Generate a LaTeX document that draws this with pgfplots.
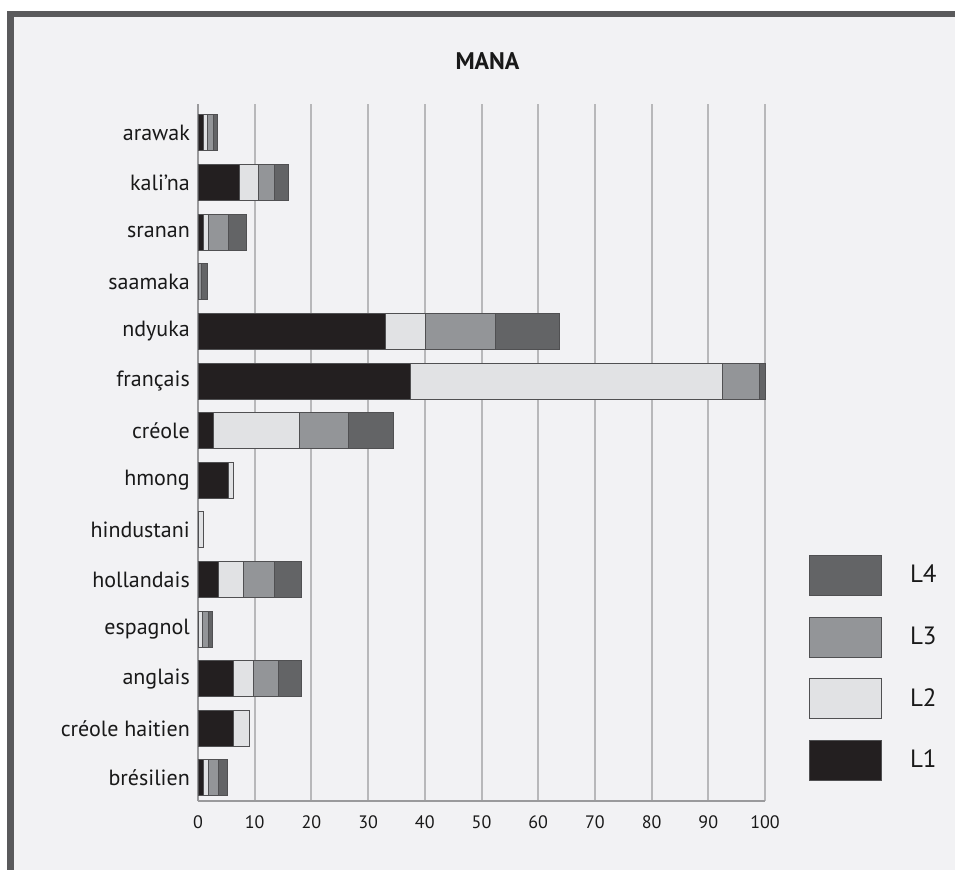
\documentclass[border=0pt]{standalone}
\usepackage{pgfplots}
\pgfplotsset{compat=1.18}
\usepackage{fontspec}
\setmainfont{PT Sans}
\definecolor{bg}{HTML}{F2F2F4}
\definecolor{framec}{HTML}{5A5A5C}
\definecolor{cA}{HTML}{231F20}
\definecolor{cB}{HTML}{E1E2E4}
\definecolor{cC}{HTML}{939598}
\definecolor{cD}{HTML}{636466}
\definecolor{gridc}{HTML}{B8B8BA}
\definecolor{axc}{HTML}{9A9A9C}
\definecolor{barline}{HTML}{505052}

% y positions: 1 = brésilien (bottom) ... 14 = arawak (top)
\pgfplotstableread{
y  L1    L2    L3    L4
1  1.0   0.9   1.7   1.6
2  6.3   2.8   0     0
3  6.3   3.5   4.4   4.1
4  0     0.8   1.0   0.8
5  3.6   4.4   5.5   4.7
6  0     0.9   0     0
7  5.4   0.9   0     0
8  2.8   15.1  8.7   7.9
9  37.5  55.0  6.5   1.0
10 33.0  7.2   12.2  11.3
11 0     0     0.7   1.0
12 1.0   0.9   3.5   3.2
13 7.3   3.4   2.8   2.4
14 1.0   0.75  1.0   0.75
}\datatable

\begin{document}
\begin{tikzpicture}
\useasboundingbox (0pt,0pt) rectangle (955pt,870pt);
\fill[white] (0pt,0pt) rectangle (955pt,870pt);
\fill[bg] (10pt,0pt) rectangle (955pt,856pt);
\fill[framec] (7pt,0pt) rectangle (14pt,859pt);
\fill[framec] (7pt,853pt) rectangle (955pt,859pt);
\node[font=\bfseries\fontsize{24}{28}\selectfont, text=black!90] at (487.5pt,808.5pt) {MANA};
\begin{axis}[
  at={(198pt,69pt)}, anchor=south west, scale only axis,
  width=567pt, height=697pt,
  xbar stacked, bar width=36pt,
  xmin=0, xmax=100, ymin=0.5364, ymax=14.5845,
  ytick={1,...,14},
  yticklabels={brésilien,créole haitien,anglais,espagnol,hollandais,hindustani,hmong,créole,français,ndyuka,saamaka,sranan,kali’na,arawak},
  xtick={0,10,...,100},
  xmajorgrids, grid style={gridc, line width=2pt},
  axis x line*=bottom, axis y line*=left,
  axis line style={axc, line width=2pt, -},
  major tick length=0pt,
  /pgf/number format/assume math mode=true,
  yticklabel style={font=\fontsize{22}{24}\selectfont, inner sep=0pt, xshift=-8pt, text=black!90},
  xticklabel style={font=\fontsize{18}{20}\selectfont, inner sep=0pt, yshift=-14pt, text=black!90},
  every axis plot/.append style={draw=barline, line width=1pt},
  legend image code/.code={\draw[#1] (0pt,-21pt) rectangle (72pt,19pt);},
  reverse legend,
  legend style={at={(axis description cs:1.0776,0.3529)}, anchor=north west,
    draw=none, fill=none, inner sep=0pt, outer sep=0pt,
    row sep=20.7pt, column sep=28pt,
    nodes={inner sep=0pt, font=\fontsize{25}{27}\selectfont, text=black!90}},
  legend cell align=left,
  clip=false,
]
\addplot[fill=cA] table[x=L1,y=y] {\datatable};
\addplot[fill=cB] table[x=L2,y=y] {\datatable};
\addplot[fill=cC] table[x=L3,y=y] {\datatable};
\addplot[fill=cD] table[x=L4,y=y] {\datatable};
\legend{L1,L2,L3,L4}
\end{axis}
\end{tikzpicture}
\end{document}
